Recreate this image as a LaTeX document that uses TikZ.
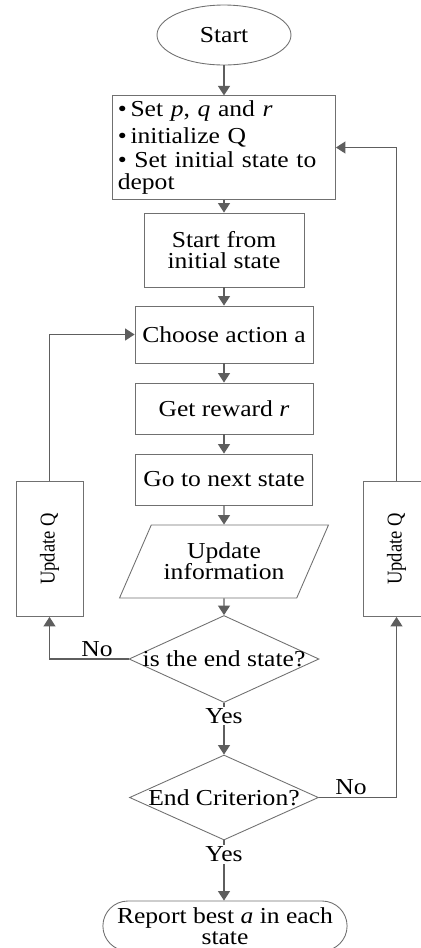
\documentclass[tikz,border=0pt]{standalone}
\usepackage{fontspec}
\usepackage{graphicx}
\setmainfont{Liberation Serif}[FakeStretch=1.12]
\newfontfamily\narrowfont{Liberation Serif}[FakeStretch=0.88]
\usetikzlibrary{shapes.geometric,shapes.misc,arrows.meta}
\definecolor{linegray}{HTML}{5E5E5E}
\definecolor{boxgray}{HTML}{707070}

\begin{document}
\begin{tikzpicture}[x=0.02cm, y=-0.02cm,
	font=\fontsize{13}{12}\selectfont,
	box/.style={draw=boxgray, line width=0.5pt, rectangle, align=center, inner sep=3pt},
	arr/.style={draw=linegray, line width=0.7pt, -{Triangle[length=0.19cm,width=0.24cm]}},
	tag/.style={fill=white, inner sep=1pt}]
		\useasboundingbox (0,0) rectangle (420,948);

		\node [draw=boxgray, line width=0.5pt, ellipse, minimum width=2.68cm, minimum height=1.2cm] (start) at (224,35) {Start};
		\node [box, minimum height=2.06cm, align=left, text width=4.25cm] (init) at (224,147.5) {\textbullet\,Set \textit{p}, \textit{q} and \textit{r}\\[3pt] \textbullet\,initialize Q\\[2pt] \textbullet\ Set initial state to\\depot};
		\node [box, minimum width=3.2cm, minimum height=1.48cm] (from) at (224,250) {Start from\\initial state};
		\node [box, minimum width=3.56cm, minimum height=1.14cm] (choose) at (224,334.5) {Choose action a};
		\node [box, minimum width=3.56cm, minimum height=1.02cm] (reward) at (224,408.5) {Get reward \textit{r}};
		\node [box, minimum width=3.54cm, minimum height=1.02cm] (next) at (224,479.5) {Go to next state};
		\node [draw=boxgray, line width=0.5pt, trapezium, trapezium left angle=57, trapezium right angle=123, trapezium stretches body, minimum width=4.18cm, minimum height=1.46cm, align=center] (info) at (224,561.5) {Update\\information};
		\node [draw=boxgray, line width=0.5pt, diamond, inner sep=0pt, minimum width=3.8cm, minimum height=1.74cm] (end1) at (224,659) {\makebox[0pt]{is the end state?}};
		\node [draw=boxgray, line width=0.5pt, diamond, inner sep=0pt, minimum width=3.78cm, minimum height=1.7cm] (end2) at (224,797.5) {\makebox[0pt]{End Criterion?}};
		\node [draw=boxgray, line width=0.5pt, rounded rectangle, minimum width=4.86cm, minimum height=1cm, align=center] (report) at (225,926) {Report best \textit{a} in each\\state};

		% the two Q updates
		\node [box, minimum width=1.34cm, minimum height=2.7cm, font=\narrowfont\fontsize{12}{12}\selectfont] (updL) at (49.5,549) {\rotatebox{90}{Update Q}};
		\node [box, minimum width=1.34cm, minimum height=2.7cm, font=\narrowfont\fontsize{12}{12}\selectfont] (updR) at (396.5,549) {\rotatebox{90}{Update Q}};

		\draw [arr] (start) to (init);
		\draw [arr] (init) to (from);
		\draw [arr] (from) to (choose);
		\draw [arr] (choose) to (reward);
		\draw [arr] (reward) to (next);
		\draw [arr] (next) to (info);
		\draw [arr] (info) to (end1);
		\draw [arr] (end1) to node [tag, pos=0.25] (yes1) {Yes} (end2);
		\draw [arr] (end2) to node [tag, pos=0.23] (yes2) {Yes} (end2 |- report.north);

		\draw [arr] (end1.west) -| (updL.south);
		\draw [arr] (updL.north) |- (choose.west);
		\draw [arr] (end2.east) -| (updR.south);
		\draw [arr] (updR.north) |- (init.east);

		\node [] (no1) at (97,649) {No};
		\node [] (no2) at (351,787) {No};
\end{tikzpicture}
\end{document}
